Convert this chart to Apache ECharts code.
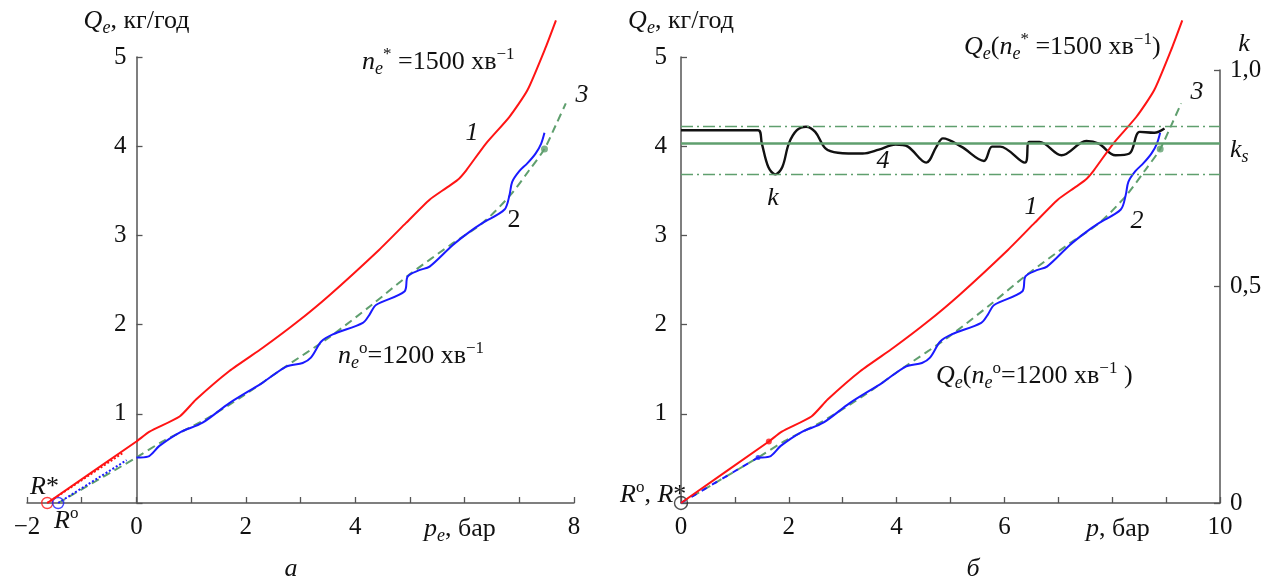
<!DOCTYPE html>
<html>
<head>
<meta charset="utf-8">
<script src="https://cdn.jsdelivr.net/npm/echarts@6/dist/echarts.min.js"></script>
<style>
  html, body { margin: 0; padding: 0; background: #fff; }
  #chart { width: 1266px; height: 578px; }
</style>
</head>
<body>
<div id="chart"></div>
<script>
// points R*, R° on the p_e axis
var rStar = -1.63;
var rZero = -1.43;

// curve 1, n*=1500 (p_e, Q_e)
var redQ = [[-1.63,0],[0,0.69],[0.24,0.80],[0.79,0.97],[1.09,1.16],[1.70,1.48],[2.31,1.74],[2.92,2.02],
  [3.53,2.33],[4.44,2.84],[4.93,3.14],[5.36,3.40],[5.66,3.53],[5.87,3.62],[6.03,3.73],[6.39,4.03],
  [6.82,4.33],[7.15,4.63],[7.49,5.12],[7.67,5.41]];
var redDotted = [[-1.63,0],[-0.25,0.56]];

// curve 2, n°=1200
var blueQ = [[0,0.51],[0.21,0.52],[0.42,0.64],[0.79,0.79],[1.21,0.90],[1.70,1.12],[2.31,1.35],[2.74,1.53],
  [3.04,1.57],[3.19,1.63],[3.38,1.81],[3.59,1.89],[4.14,2.02],[4.26,2.11],[4.38,2.22],[4.90,2.37],
  [4.96,2.54],[5.17,2.61],[5.36,2.65],[5.78,2.89],[6.09,3.04],[6.33,3.14],[6.73,3.29],[6.82,3.45],
  [6.87,3.60],[7.00,3.72],[7.15,3.81],[7.30,3.92],[7.40,4.03],[7.46,4.15]];
var blueDotted = [[-1.43,0],[-0.18,0.48]];

// curve 3 (approximation, dashed)
var greenQ = [[-1.43,0],[0,0.51],[0.48,0.69],[1.21,0.92],[1.95,1.20],[2.68,1.51],[3.53,1.86],[4.30,2.22],
  [4.99,2.56],[5.78,2.91],[6.33,3.14],[6.82,3.44],[7.18,3.73],[7.46,3.97],[7.67,4.24],[7.85,4.48]];
var greenDot = [7.46, 3.97];

// curve 4, k(p)
var kCurve = [[0,0.861],[1.43,0.861],[1.50,0.830],[1.62,0.776],[1.75,0.759],[1.88,0.776],[2.00,0.830],
  [2.15,0.861],[2.32,0.869],[2.49,0.857],[2.68,0.819],[2.91,0.809],[3.37,0.807],[3.67,0.816],
  [3.98,0.828],[4.21,0.823],[4.55,0.786],[4.74,0.823],[4.86,0.842],[5.20,0.823],[5.62,0.790],
  [5.77,0.823],[5.92,0.823],[6.38,0.786],[6.46,0.834],[6.65,0.834],[7.06,0.803],[7.52,0.836],
  [7.75,0.830],[8.06,0.803],[8.32,0.807],[8.51,0.857],[8.78,0.855],[8.97,0.865]];
var kS = 0.826;
var kBand = [0.755, 0.867];

var leftXTicks = [-2, 0, 2, 4, 8];
var rightXTicks = [0, 2, 4, 6, 10];

// p = p_e - R
function shift(arr, r) {
  return arr.map(function (p) { return [p[0] - r, p[1]]; });
}

var F = '"Liberation Serif", "Times New Roman", serif';
var RED = '#ff1414', BLUE = '#1a1aff', GREEN = '#5f9f6e', AX = '#555';
var rich = {
  i:   { fontFamily: F, fontStyle: 'italic', fontSize: 26, lineHeight: 32, color: '#111' },
  n:   { fontFamily: F, fontSize: 26, lineHeight: 32, color: '#111' },
  sub: { fontFamily: F, fontStyle: 'italic', fontSize: 18, lineHeight: 18, verticalAlign: 'bottom', color: '#111' },
  sup: { fontFamily: F, fontSize: 17, lineHeight: 17, verticalAlign: 'top', color: '#111' }
};

function txt(x, y, text, align) {
  return {
    type: 'text', x: x, y: y,
    style: { text: text, rich: rich, textAlign: align || 'left', textVerticalAlign: 'middle', fill: '#111' }
  };
}

function xAx(grid, min, max, ticks) {
  return {
    gridIndex: grid, type: 'value', min: min, max: max, interval: 1,
    axisLine: { lineStyle: { color: AX, width: 1.5 } },
    axisTick: { inside: true, length: 6, lineStyle: { color: AX, width: 1.3 } },
    axisLabel: {
      margin: 12, fontFamily: F, fontSize: 25, color: '#111', showMinLabel: true, showMaxLabel: true,
      formatter: function (v) { return ticks.indexOf(v) >= 0 ? String(v).replace('-', '\u2212') : ''; }
    },
    splitLine: { show: false }
  };
}

function yAx(grid, margin, offset) {
  return {
    gridIndex: grid, type: 'value', min: 0, max: 5, interval: 1, offset: offset,
    name: '{i|Q}{sub|e}{n|, кг/год}', nameLocation: 'end', nameGap: 20,
    nameTextStyle: { rich: rich },
    axisLine: { onZero: false, lineStyle: { color: AX, width: 1.5 } },
    axisTick: { inside: true, length: 6, lineStyle: { color: AX, width: 1.3 } },
    axisLabel: {
      margin: margin, fontFamily: F, fontSize: 25, color: '#111',
      formatter: function (v) { return v === 0 ? '' : String(v); }
    },
    splitLine: { show: false }
  };
}

function line(xi, data, color, width, type, smooth) {
  return {
    type: 'line', xAxisIndex: xi, yAxisIndex: xi, data: data, showSymbol: false, symbol: 'none',
    smooth: smooth, clip: false, silent: true,
    lineStyle: { color: color, width: width, type: type }
  };
}

function dots(xi, data, color, size, hollow) {
  return {
    type: 'scatter', xAxisIndex: xi, yAxisIndex: xi, data: data, symbolSize: size, clip: false, silent: true,
    itemStyle: hollow ? { color: 'rgba(0,0,0,0)', borderColor: color, borderWidth: 1.4 } : { color: color }
  };
}

var chart = echarts.init(document.getElementById('chart'));

var option = {
  backgroundColor: '#fff',
  animation: false,
  grid: [
    { left: 27, top: 57, width: 547, height: 446 },
    { left: 681, top: 57, width: 539, height: 446 },
    { left: 681, top: 70, width: 539, height: 433 }
  ],
  xAxis: [
    xAx(0, -2, 8, leftXTicks),
    xAx(1, 0, 10, rightXTicks),
    { gridIndex: 2, type: 'value', min: 0, max: 10, show: false }
  ],
  yAxis: [
    // y axis of panel a stands at p_e = 0
    yAx(0, 10, -109.5),
    yAx(1, 14, 0),
    {
      gridIndex: 2, type: 'value', min: 0, max: 1, interval: 0.5, position: 'right',
      axisLine: { onZero: false, lineStyle: { color: AX, width: 1.5 } },
      axisTick: { inside: true, length: 6, lineStyle: { color: AX, width: 1.3 } },
      axisLabel: {
        margin: 10, fontFamily: F, fontSize: 25, color: '#111',
        formatter: function (v) { return v === 0 ? '0' : v.toFixed(1).replace('.', ','); }
      },
      splitLine: { show: false }
    }
  ],
  series: [
    // panel a
    line(0, greenQ, GREEN, 2, [8, 5], 0.3),
    line(0, redDotted, RED, 2, 'dotted', false),
    line(0, blueDotted, BLUE, 2, 'dotted', false),
    line(0, redQ, RED, 2, 'solid', 0.2),
    line(0, blueQ, BLUE, 2, 'solid', 0.3),
    dots(0, [greenDot], GREEN, 7, false),
    dots(0, [[rStar, 0]], RED, 11, true),
    dots(0, [[rZero, 0]], BLUE, 11, true),
    // panel б
    line(1, shift(greenQ, rZero), GREEN, 2, [8, 5], 0.3),
    line(1, shift([[rZero, 0], blueQ[0]], rZero), BLUE, 2, [6, 6], false),
    line(1, shift(redQ, rStar), RED, 2, 'solid', 0.2),
    line(1, shift(blueQ, rZero), BLUE, 2, 'solid', 0.3),
    dots(1, shift([greenDot], rZero), GREEN, 7, false),
    dots(1, shift([redQ[1]], rStar), RED, 6, false),
    dots(1, shift([blueQ[0]], rZero), BLUE, 5, false),
    dots(1, [[0, 0]], '#222', 13, true),
    {
      type: 'line', xAxisIndex: 2, yAxisIndex: 2, data: kCurve, showSymbol: false, symbol: 'none',
      smooth: 0.35, silent: true, lineStyle: { color: '#111', width: 2.4 },
      markLine: {
        silent: true, symbol: 'none', label: { show: false },
        data: [
          { yAxis: kS, lineStyle: { color: GREEN, width: 2.6, type: 'solid' } },
          { yAxis: kBand[0], lineStyle: { color: GREEN, width: 1.3, type: [12, 4, 2, 4] } },
          { yAxis: kBand[1], lineStyle: { color: GREEN, width: 1.3, type: [12, 4, 2, 4] } }
        ]
      },
      z: 1
    }
  ],
  graphic: [
    // panel a
    txt(362, 62, '{i|n}{sub|e}{sup|*}{n| =1500 хв}{sup|\u22121}'),
    txt(472, 133, '{i|1}', 'center'),
    txt(514, 220, '{n|2}', 'center'),
    txt(582, 95, '{i|3}', 'center'),
    txt(338, 356, '{i|n}{sub|e}{sup|o}{n|=1200 хв}{sup|\u22121}'),
    txt(30, 487, '{i|R}{n|*}'),
    txt(54, 521, '{i|R}{sup|o}'),
    txt(424, 529, '{i|p}{sub|e}{n|, бар}'),
    txt(291, 569, '{i|а}', 'center'),
    // panel б
    txt(964, 47, '{i|Q}{sub|e}{n|(}{i|n}{sub|e}{sup|*}{n| =1500 хв}{sup|\u22121}{n|)}'),
    txt(1031, 207, '{i|1}', 'center'),
    txt(1137, 221, '{i|2}', 'center'),
    txt(1197, 92, '{i|3}', 'center'),
    txt(883, 161, '{i|4}', 'center'),
    txt(773, 198, '{i|k}', 'center'),
    txt(1244, 44, '{i|k}', 'center'),
    txt(1230, 150, '{i|k}{sub|s}'),
    txt(936, 376, '{i|Q}{sub|e}{n|(}{i|n}{sub|e}{sup|o}{n|=1200 хв}{sup|\u22121}{n| )}'),
    txt(620, 495, '{i|R}{sup|o}{n|, }{i|R}{n|*}'),
    txt(1086, 529, '{i|p}{n|, бар}'),
    txt(973, 569, '{i|б}', 'center')
  ]
};

chart.setOption(option);
window.addEventListener('resize', function () { chart.resize(); });
</script>
</body>
</html>
